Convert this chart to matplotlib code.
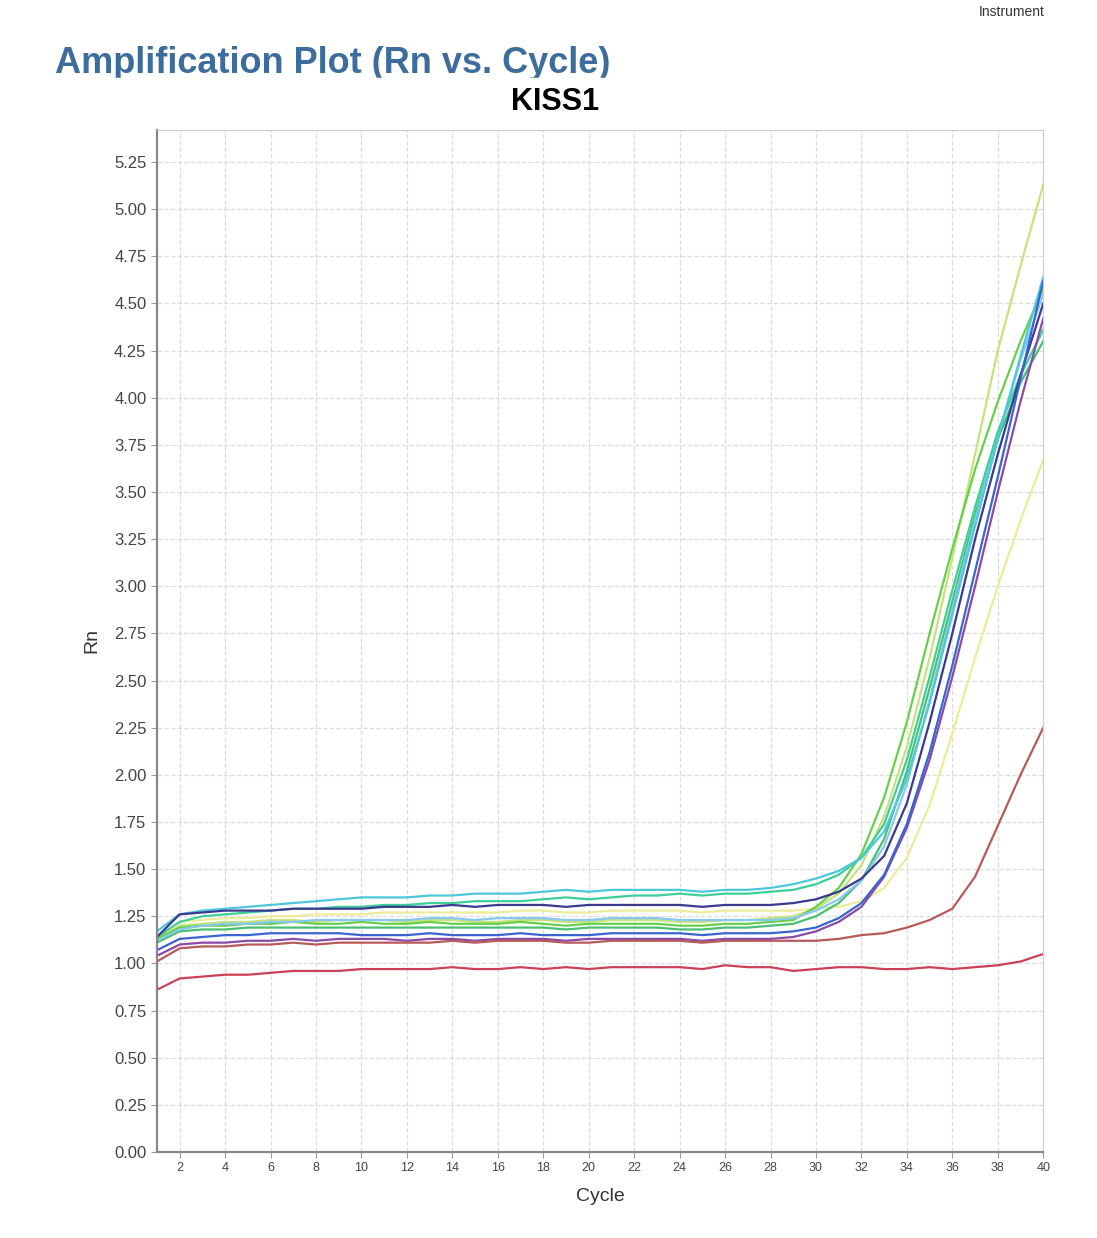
import matplotlib
matplotlib.use("Agg")
import matplotlib.pyplot as plt
from matplotlib.patches import Rectangle

plt.rcParams['font.family'] = ['Liberation Sans', 'DejaVu Sans']

cycles = list(range(1, 41))

cyan = [1.17,1.26,1.28,1.29,1.30,1.31,1.32,1.33,1.34,1.35,1.35,1.35,1.36,1.36,1.37,1.37,1.37,1.38,1.39,1.38,
        1.39,1.39,1.39,1.39,1.38,1.39,1.39,1.40,1.42,1.45,1.49,1.56,1.70,1.98,2.38,2.85,3.32,3.78,4.22,4.64]
teal = [1.14,1.22,1.25,1.26,1.27,1.28,1.29,1.29,1.30,1.30,1.31,1.31,1.32,1.32,1.33,1.33,1.33,1.34,1.35,1.34,
        1.35,1.36,1.36,1.37,1.36,1.37,1.37,1.38,1.39,1.42,1.47,1.56,1.74,2.08,2.52,2.98,3.42,3.82,4.12,4.36]
navy = [1.14,1.26,1.27,1.28,1.28,1.28,1.29,1.29,1.29,1.29,1.30,1.30,1.30,1.31,1.30,1.31,1.31,1.31,1.30,1.31,
        1.31,1.31,1.31,1.31,1.30,1.31,1.31,1.31,1.32,1.34,1.38,1.45,1.57,1.85,2.28,2.75,3.25,3.70,4.12,4.50]
yellowgreen = [1.13,1.20,1.21,1.22,1.22,1.23,1.23,1.22,1.23,1.23,1.23,1.22,1.23,1.23,1.22,1.22,1.23,1.23,1.22,1.22,
               1.23,1.23,1.23,1.22,1.22,1.23,1.23,1.24,1.25,1.29,1.37,1.52,1.78,2.15,2.62,3.15,3.70,4.25,4.70,5.13]
paleyellow = [1.14,1.22,1.23,1.24,1.24,1.25,1.25,1.26,1.26,1.26,1.27,1.27,1.27,1.27,1.27,1.27,1.28,1.28,1.27,1.27,
              1.28,1.28,1.28,1.28,1.27,1.28,1.28,1.28,1.28,1.29,1.30,1.33,1.40,1.56,1.84,2.22,2.62,3.00,3.35,3.67]
brightgreen = [1.13,1.19,1.20,1.20,1.21,1.21,1.22,1.21,1.21,1.22,1.21,1.21,1.22,1.21,1.21,1.21,1.22,1.21,1.20,1.21,
               1.21,1.21,1.21,1.20,1.20,1.21,1.21,1.22,1.23,1.30,1.40,1.58,1.88,2.28,2.75,3.20,3.62,3.98,4.30,4.58]
lightblue = [1.12,1.18,1.20,1.21,1.21,1.22,1.22,1.23,1.23,1.23,1.23,1.23,1.24,1.24,1.23,1.24,1.24,1.24,1.23,1.23,
             1.24,1.24,1.24,1.23,1.23,1.23,1.23,1.23,1.24,1.28,1.34,1.44,1.62,1.95,2.40,2.88,3.35,3.80,4.20,4.55]
green = [1.11,1.17,1.18,1.18,1.19,1.19,1.19,1.19,1.19,1.19,1.19,1.19,1.19,1.19,1.19,1.19,1.19,1.19,1.18,1.19,
         1.19,1.19,1.19,1.18,1.18,1.19,1.19,1.20,1.21,1.25,1.32,1.44,1.66,2.02,2.46,2.92,3.38,3.78,4.08,4.30]
blue = [1.07,1.13,1.14,1.15,1.15,1.16,1.16,1.16,1.16,1.15,1.15,1.15,1.16,1.15,1.15,1.15,1.16,1.15,1.15,1.15,
        1.16,1.16,1.16,1.16,1.15,1.16,1.16,1.16,1.17,1.19,1.24,1.32,1.47,1.74,2.12,2.58,3.08,3.58,4.10,4.62]
magenta = [1.04,1.10,1.11,1.11,1.12,1.12,1.13,1.12,1.13,1.13,1.13,1.12,1.13,1.13,1.12,1.13,1.13,1.13,1.12,1.13,
           1.13,1.13,1.13,1.13,1.12,1.13,1.13,1.13,1.14,1.17,1.22,1.30,1.46,1.72,2.08,2.52,3.00,3.50,3.98,4.42]
redbrown = [1.01,1.08,1.09,1.09,1.10,1.10,1.11,1.10,1.11,1.11,1.11,1.11,1.11,1.12,1.11,1.12,1.12,1.12,1.11,1.11,
            1.12,1.12,1.12,1.12,1.11,1.12,1.12,1.12,1.12,1.12,1.13,1.15,1.16,1.19,1.23,1.29,1.46,1.73,2.00,2.25]
crimson = [0.86,0.92,0.93,0.94,0.94,0.95,0.96,0.96,0.96,0.97,0.97,0.97,0.97,0.98,0.97,0.97,0.98,0.97,0.98,0.97,
           0.98,0.98,0.98,0.98,0.97,0.99,0.98,0.98,0.96,0.97,0.98,0.98,0.97,0.97,0.98,0.97,0.98,0.99,1.01,1.05]

series = [paleyellow, yellowgreen, brightgreen, green, lightblue, teal, cyan, magenta, navy, blue, redbrown, crimson]
colors = ['#ecec9a', '#c8e27a', '#66d04a', '#48c070', '#88c8f0', '#3ccf9a', '#4cc8dc',
          '#8a4aa8', '#3a3a90', '#3a64d0', '#b85a5a', '#cc4058']

fig = plt.figure(figsize=(10.97, 12.38), dpi=100)
ax = fig.add_axes([0.143, 0.0695, 0.808, 0.8255])

for y, c in zip(series, colors):
    ax.plot(cycles, y, color=c, lw=1.6)

ax.set_xlim(1, 40)
ax.set_ylim(0, 5.42)
ax.set_xticks(range(2, 41, 2))
ax.set_yticks([i * 0.25 for i in range(22)])
ax.set_yticklabels(['%.2f' % (i * 0.25) for i in range(22)])
ax.tick_params(axis='y', labelsize=12, labelcolor='#444444', color='#999999', length=4)
ax.tick_params(axis='x', labelsize=9, labelcolor='#444444', color='#999999', length=4)
ax.grid(True, color='#dddddd', linestyle='--', lw=0.9)
for s in ['left', 'bottom']:
    ax.spines[s].set_color('#888888')
    ax.spines[s].set_linewidth(1.6)
for s in ['top', 'right']:
    ax.spines[s].set_color('#cccccc')
ax.set_xlabel('Cycle', fontsize=14, color='#333333', labelpad=10)
ax.set_ylabel('Rn', fontsize=14, color='#333333', labelpad=10)

fig.text(0.05, 0.949, 'Amplification Plot (Rn vs. Cycle)', fontsize=26, fontweight='bold',
         color='#3d6d9c', va='center')
# title is clipped at the bottom in the original
fig.patches.append(Rectangle((0.04, 0.927), 0.52, 0.010, transform=fig.transFigure,
                             color='white', zorder=5))
fig.text(0.506, 0.918, 'KISS1', fontsize=22, fontweight='bold', color='black', ha='center', va='center',
         zorder=10)
fig.text(0.922, 0.99, 'Instrument', fontsize=10, color='#333333', ha='center', va='center')

fig.savefig('out.png', dpi=100)
